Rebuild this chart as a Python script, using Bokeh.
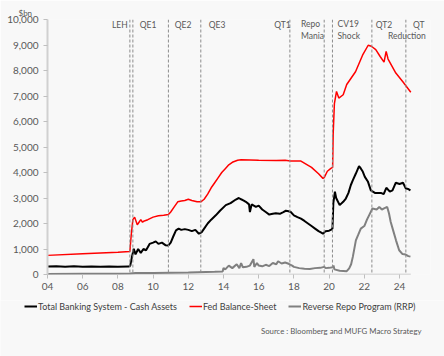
from bokeh.plotting import figure
from bokeh.layouts import column
from bokeh.models import (Range1d, FixedTicker, NumeralTickFormatter, Span, Label,
                          Legend, LegendItem, Title)
from bokeh.embed import file_html
from bokeh.resources import INLINE

# ---------------- data (decimal years, $bn) ----------------
cash_t = [2004.0, 2004.5, 2005.0, 2005.5, 2006.0, 2006.5, 2007.0, 2007.5, 2008.0, 2008.6,
          2008.7, 2008.8, 2008.9, 2009.0, 2009.15, 2009.3, 2009.45, 2009.6, 2009.8, 2010.0,
          2010.15, 2010.3, 2010.5, 2010.7, 2010.87, 2011.0, 2011.15, 2011.3, 2011.45, 2011.6,
          2011.8, 2012.0, 2012.2, 2012.4, 2012.6, 2012.75, 2012.9, 2013.1, 2013.3, 2013.56,
          2013.8, 2014.13, 2014.4, 2014.7, 2014.87, 2015.0, 2015.15, 2015.27, 2015.45, 2015.5,
          2015.6, 2015.84, 2016.0, 2016.2, 2016.4, 2016.6, 2016.8, 2016.97, 2017.2, 2017.4,
          2017.54, 2017.7, 2017.82, 2018.0, 2018.2, 2018.4, 2018.6, 2018.8, 2019.0, 2019.2,
          2019.4, 2019.53, 2019.65, 2019.8, 2020.0, 2020.12, 2020.19, 2020.24, 2020.33, 2020.4,
          2020.6, 2020.8, 2020.95, 2021.1, 2021.23, 2021.35, 2021.52, 2021.7, 2021.8, 2021.9,
          2022.03, 2022.2, 2022.37, 2022.6, 2022.94, 2023.1, 2023.25, 2023.45, 2023.6, 2023.79,
          2024.0, 2024.2, 2024.36, 2024.5, 2024.62]
cash_v = [310, 325, 300, 320, 300, 315, 300, 310, 300, 310,
          340, 700, 1010, 790, 1000, 850, 1000, 950, 1200, 1250,
          1300, 1200, 1250, 1150, 1140, 1250, 1500, 1730, 1800, 1750,
          1780, 1750, 1700, 1750, 1600, 1650, 1800, 2000, 2150, 2320,
          2500, 2720, 2800, 2940, 3000, 2950, 2900, 2850, 2750, 2450,
          2750, 2650, 2700, 2550, 2450, 2350, 2380, 2400, 2380, 2450,
          2500, 2480, 2450, 2320, 2250, 2190, 2100, 2000, 1900, 1800,
          1700, 1650, 1600, 1700, 1720, 1760, 1800, 2800, 3250, 3000,
          2720, 2850, 2980, 3200, 3500, 3700, 3960, 4250, 4160, 4050,
          3830, 3650, 3300, 3200, 3200, 3150, 3400, 3250, 3300, 3600,
          3550, 3600, 3370, 3350, 3300]

fed_t = [2004.0, 2006.0, 2008.0, 2008.68, 2008.75, 2008.85, 2008.95, 2009.1, 2009.2, 2009.3,
         2009.4, 2009.5, 2009.7, 2010.0, 2010.3, 2010.6, 2010.87, 2011.0, 2011.2, 2011.4,
         2011.6, 2011.8, 2012.0, 2012.2, 2012.5, 2012.71, 2012.9, 2013.1, 2013.3, 2013.5,
         2013.7, 2013.9, 2014.1, 2014.3, 2014.5, 2014.8, 2015.0, 2016.0, 2017.0, 2017.5,
         2017.8, 2018.4, 2019.0, 2019.4, 2019.65, 2019.72, 2019.9, 2020.1, 2020.2, 2020.23,
         2020.3, 2020.42, 2020.55, 2020.8, 2021.0, 2021.5, 2021.9, 2022.22, 2022.4, 2022.65,
         2022.9, 2023.12, 2023.24, 2023.35, 2023.79, 2024.2, 2024.64]
fed_v = [750, 810, 870, 900, 1500, 2150, 2250, 1950, 2050, 2150,
         2050, 2100, 2150, 2250, 2300, 2320, 2350, 2450, 2650, 2850,
         2880, 2900, 2950, 2900, 2850, 2850, 2950, 3150, 3400, 3600,
         3800, 4000, 4150, 4300, 4400, 4480, 4500, 4480, 4470, 4480,
         4450, 4450, 4200, 3950, 3770, 3800, 4050, 4160, 4200, 5500,
         6700, 7180, 6920, 7050, 7450, 7950, 8600, 8990, 8950, 8820,
         8550, 8330, 8750, 8450, 7900, 7550, 7150]

rrp_t = [2004.0, 2006.0, 2008.0, 2008.7, 2009.0, 2010.0, 2011.0, 2012.0, 2012.5, 2013.0,
         2013.5, 2013.95, 2014.0, 2014.1, 2014.3, 2014.5, 2014.75, 2014.9, 2015.0, 2015.1,
         2015.3, 2015.5, 2015.7, 2015.75, 2015.9, 2016.0, 2016.2, 2016.4, 2016.6, 2016.8,
         2017.0, 2017.1, 2017.3, 2017.5, 2017.7, 2017.9, 2018.0, 2018.3, 2018.6, 2018.9,
         2019.2, 2019.5, 2019.72, 2019.8, 2020.0, 2020.2, 2020.25, 2020.3, 2020.6, 2021.0,
         2021.14, 2021.25, 2021.35, 2021.52, 2021.65, 2021.8, 2022.0, 2022.15, 2022.27, 2022.46,
         2022.7, 2022.85, 2023.0, 2023.15, 2023.3, 2023.4, 2023.5, 2023.65, 2023.8, 2023.98,
         2024.17, 2024.35, 2024.5, 2024.62]
rrp_v = [20, 25, 30, 40, 60, 60, 70, 80, 90, 100,
         110, 120, 250, 200, 350, 250, 400, 250, 450, 280,
         300, 350, 600, 300, 450, 350, 320, 380, 330, 450,
         400, 520, 430, 470, 420, 350, 300, 250, 230, 220,
         250, 260, 300, 250, 260, 280, 350, 200, 150, 130,
         240, 400, 700, 1340, 1550, 1800, 1900, 2150, 2320, 2590,
         2550, 2650, 2550, 2600, 2650, 2400, 2060, 1700, 1340, 950,
         800, 780, 720, 700]

event_dates = [2008.68, 2008.85, 2010.87, 2012.71, 2017.77, 2019.72, 2020.19, 2022.43, 2024.36]
year_ticks = [2004, 2006, 2008, 2010, 2012, 2014, 2016, 2018, 2020, 2022, 2024]
year_labels = ["04", "06", "08", "10", "12", "14", "16", "18", "20", "22", "24"]
y_ticks = [0, 1000, 2000, 3000, 4000, 5000, 6000, 7000, 8000, 9000, 10000]

series_names = ["Total Banking System - Cash Assets", "Fed Balance-Sheet",
                "Reverse Repo Program (RRP)"]
series_colors = ["#000000", "#ff0000", "#808080"]
series_widths = [2, 1.5, 2]

# ---------------- main figure ----------------
BG = "#f8f8f8"
FONT = "Lato"
p = figure(width=444, height=300, output_backend="svg", toolbar_location=None,
           x_range=Range1d(2004, 2025.76), y_range=Range1d(0, 10000),
           min_border_left=47, min_border_right=14, min_border_top=19,
           min_border_bottom=26)
p.background_fill_color = BG
p.border_fill_color = BG
p.outline_line_color = None
p.grid.visible = False

p.xaxis.ticker = FixedTicker(ticks=year_ticks)
p.xaxis.major_label_overrides = {t: l for t, l in zip(year_ticks, year_labels)}
p.xaxis.minor_tick_line_color = None
p.xaxis.axis_line_color = None
p.xaxis.major_tick_line_color = "#bfbfbf"
p.xaxis.major_tick_out = 4
p.xaxis.major_tick_in = 0
p.xaxis.major_label_standoff = 4

p.yaxis.ticker = FixedTicker(ticks=y_ticks)
p.yaxis.formatter = NumeralTickFormatter(format="0,0")
p.yaxis.minor_tick_line_color = None
p.yaxis.axis_line_color = "#d0d0d0"
p.yaxis.axis_line_width = 2
p.yaxis.major_tick_line_color = "#bfbfbf"
p.yaxis.major_tick_out = 4
p.yaxis.major_tick_in = 0
p.yaxis.major_label_standoff = 5

for ax in (p.xaxis, p.yaxis):
    ax.major_label_text_font = FONT
    ax.major_label_text_font_size = "10px"
    ax.major_label_text_color = "#595959"

for d in event_dates:
    p.add_layout(Span(location=d, dimension="height", line_color="#8c8c8c",
                      line_width=1, line_dash="3 2"))

# x axis baseline spanning the data period
p.segment(x0=[fed_t[0]], y0=[0], x1=[fed_t[-1]], y1=[0],
          line_color="#bfbfbf", line_width=1.5)

p.line(rrp_t, rrp_v, line_color=series_colors[2], line_width=series_widths[2])
p.line(fed_t, fed_v, line_color=series_colors[1], line_width=series_widths[1])
p.line(cash_t, cash_v, line_color=series_colors[0], line_width=series_widths[0])

ann = [("LEH", 2008.56, 9800, "right"), ("QE1", 2009.24, 9800, "left"),
       ("QE2", 2011.23, 9800, "left"), ("QE3", 2013.16, 9800, "left"),
       ("QT1", 2017.82, 9800, "right"), ("Repo", 2018.4, 9840, "left"),
       ("Mania", 2018.4, 9370, "left"), ("CV19", 2020.48, 9840, "left"),
       ("Shock", 2020.48, 9370, "left"), ("QT2", 2022.65, 9800, "left"),
       ("QT", 2024.76, 9800, "left"), ("Reduction", 2023.34, 9370, "left")]
for txt, x, y, al in ann:
    p.add_layout(Label(x=x, y=y, text=txt, text_font=FONT, text_font_size="8.5px",
                       text_color="#595959", text_align=al, text_baseline="middle"))

p.add_layout(Title(text="$bn", align="left", offset=-29, standoff=4,
                   text_font=FONT, text_font_size="8px", text_color="#595959",
                   text_font_style="normal"), "above")

# ---------------- legend / source strip ----------------
q = figure(width=444, height=56, output_backend="svg", toolbar_location=None,
           x_range=Range1d(0, 444), y_range=Range1d(0, 56),
           min_border=0, min_border_left=0, min_border_right=0,
           min_border_top=0, min_border_bottom=0)
q.frame_align = False
q.axis.visible = False
q.grid.visible = False
q.outline_line_color = None
q.background_fill_color = BG
q.border_fill_color = BG

nan = float("nan")
items = []
for name, c, w in zip(series_names, series_colors, series_widths):
    r = q.line([nan, nan], [nan, nan], line_color=c, line_width=w)
    items.append(LegendItem(label=name, renderers=[r]))
legend = Legend(items=items, orientation="horizontal", location=(24, 44),
                padding=0, margin=0, spacing=12, glyph_width=13, glyph_height=12,
                label_height=12, label_standoff=1, border_line_color=None,
                background_fill_alpha=0, label_text_font=FONT,
                label_text_font_size="9px", label_text_color="#404040")
q.add_layout(legend, "center")

q.add_layout(Label(x=421, y=26, text="Source : Bloomberg and MUFG Macro Strategy",
                   text_font=FONT, text_font_size="7.8px", text_color="#595959",
                   text_align="right", text_baseline="middle"))

layout = column(p, q, spacing=0)
open("out.html", "w").write(file_html(layout, INLINE))
